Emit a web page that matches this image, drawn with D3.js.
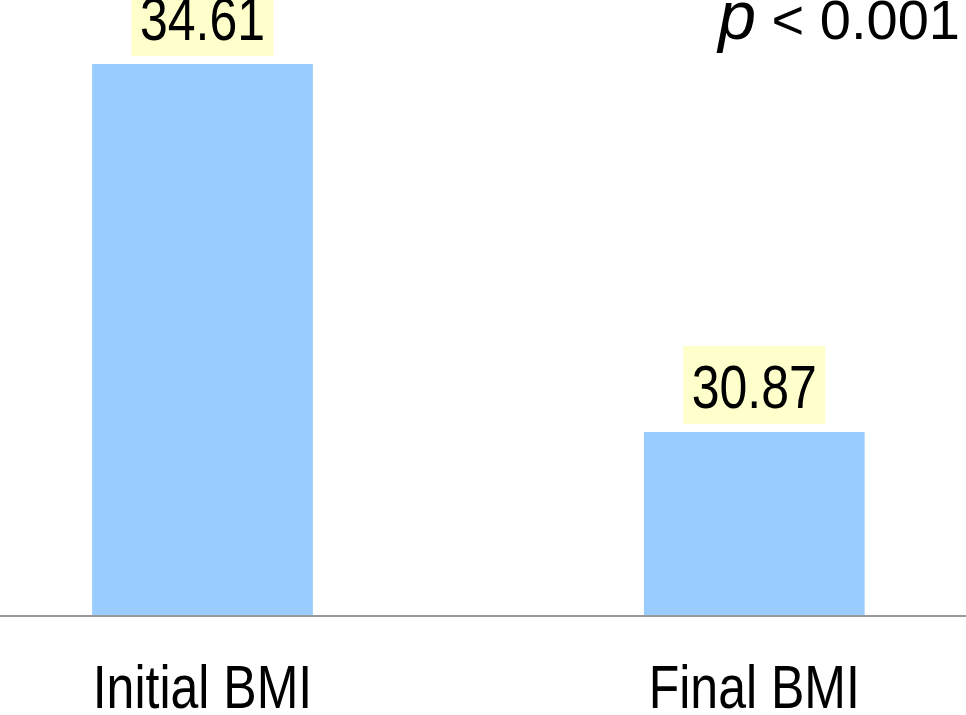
<!DOCTYPE html>
<html>
<head>
<meta charset="utf-8">
<script src="https://cdn.jsdelivr.net/npm/d3@7"></script>
<style>
  html, body { margin: 0; padding: 0; background: #ffffff; overflow: hidden; }
  svg { display: block; }
  text { font-family: "Liberation Sans", Arial, sans-serif; fill: #000; }
</style>
</head>
<body>
<svg id="chart" width="966" height="715"></svg>
<script>
// BMI before and after
const categories = ["Initial BMI", "Final BMI"];
const values = [34.61, 30.87];
const valueLabels = ["34.61", "30.87"];
const pLabel = ["p", "<", "0.001"];

const W = 966, H = 715;
const baseY = 616;
const narrow = 0.82;      // condensed glyph width
const fontSize = 61;

const svg = d3.select("#chart");

// band layout: step ~551px, bars ~221px wide
const x = d3.scaleBand()
  .domain(categories)
  .range([-183.75, 1140.5])
  .paddingInner(0.6)
  .paddingOuter(0.5);

const y = d3.scaleLinear()
  .domain([29, 35.26])
  .range([baseY, 0]);

// bars
svg.append("g")
  .selectAll("rect")
  .data(categories)
  .join("rect")
  .attr("x", d => x(d))
  .attr("y", (d, i) => y(values[i]))
  .attr("width", x.bandwidth())
  .attr("height", (d, i) => baseY - y(values[i]))
  .attr("fill", "#99ccff");

// baseline axis
const axis = d3.axisBottom(x).tickSize(0).tickPadding(0);
const ax = svg.append("g")
  .attr("transform", `translate(0,${baseY})`)
  .call(axis);
ax.select(".domain")
  .attr("d", `M0,0H${W}`)
  .attr("stroke", "#999999")
  .attr("stroke-width", 2);
ax.selectAll(".tick text").remove();
ax.selectAll(".tick")
  .append("g")
  .attr("transform", `translate(0,${708 - baseY}) scale(${narrow},1)`)
  .append("text")
  .attr("text-anchor", "middle")
  .attr("font-size", fontSize)
  .text(d => d);

// value labels on highlighted boxes
const lab = svg.append("g")
  .selectAll("g")
  .data(categories)
  .join("g")
  .attr("transform", (d, i) => `translate(${x(d) + x.bandwidth() / 2},${y(values[i]) - 8})`);

lab.append("rect")
  .attr("x", -71)
  .attr("y", -78)
  .attr("width", 142)
  .attr("height", 78)
  .attr("fill", "#ffffcc");

lab.append("g")
  .attr("transform", `translate(0,-16) scale(${narrow},1)`)
  .append("text")
  .attr("text-anchor", "middle")
  .attr("font-size", fontSize)
  .text((d, i) => valueLabels[i]);

// significance note (regular width, runs to the right edge)
const pt = svg.append("text")
  .attr("x", 960)
  .attr("y", 39)
  .attr("text-anchor", "end")
  .attr("font-size", 56)
  .attr("xml:space", "preserve");
pt.append("tspan").attr("font-style", "italic").attr("font-size", 68).text(pLabel[0]);
pt.append("tspan").text(" " + pLabel[1] + " " + pLabel[2]);
</script>
</body>
</html>
